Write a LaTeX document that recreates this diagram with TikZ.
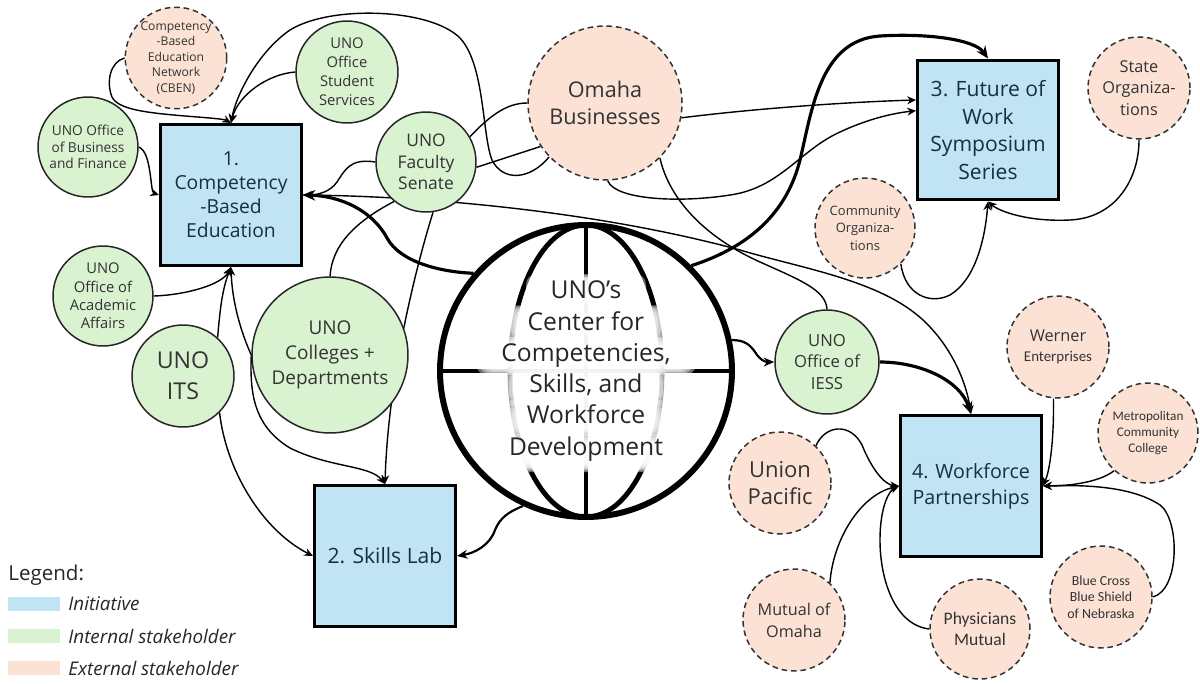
\documentclass[tikz,border=0pt]{standalone}
\usepackage{fontspec}
\setmainfont{Open Sans}
\newfontfamily\calfont{Carlito}
\usetikzlibrary{arrows.meta,backgrounds,calc}

\definecolor{initfill}{HTML}{C1E4F5}
\definecolor{intfill}{HTML}{D9F2D0}
\definecolor{extfill}{HTML}{FBE2D5}
\definecolor{inittext}{HTML}{16303F}
\definecolor{nodetext}{HTML}{333333}

\newcommand\setfs[2]{\fontsize{#1}{#2}\selectfont}

\begin{document}
\begin{tikzpicture}[x=0.02cm,y=-0.02cm,
  initbox/.style={rectangle, draw=black, line width=1.7pt, fill=initfill, text=inittext,
    minimum width=2.82cm, minimum height=2.82cm, align=center, inner sep=0pt},
  intnode/.style={circle, draw=black!85, line width=0.85pt, fill=intfill, text=nodetext,
    align=center, inner sep=0pt},
  extnode/.style={circle, draw=black!80, line width=0.85pt, dash pattern=on 3.2pt off 2.2pt,
    fill=extfill, text=nodetext, align=center, inner sep=0pt},
  link/.style={line width=0.8pt, draw=black},
  linkarrow/.style={link, -{Stealth[length=5pt,width=4.5pt]}},
  midlink/.style={line width=1.25pt, draw=black, -{Stealth[length=6pt,width=5pt]}},
  thicklink/.style={line width=1.8pt, draw=black, -{Stealth[length=7pt,width=6pt]}},
  legswatch/.style={rectangle, minimum width=1.04cm, minimum height=0.28cm, inner sep=0pt},
  legtext/.style={anchor=west, font=\itshape\setfs{10.7}{13}, text=black!85, inner sep=0pt}]
\useasboundingbox (0,0) rectangle (1200,683);

% ---- central globe ----
\node[circle, draw, line width=3.4pt, fill=white, minimum size=5.84cm, inner sep=0pt] (globe) at (586,371) {};
\draw[line width=2.8pt] (586,225) -- (586,517);
\draw[line width=2.8pt] (440,371) -- (732,371);
\draw[line width=2.8pt] (586,371) ellipse [x radius=1.52cm, y radius=2.92cm];
% soft white glow behind each line of the centre title
\foreach \cy/\hw in {293/36, 324.4/56, 355.8/86, 387.2/58, 418.6/58, 453/76} {
  \foreach \k in {0,...,7} {
    \fill[white, opacity=0.42, rounded corners=6pt]
      (586-\hw-24+2.6*\k, \cy-19+1.4*\k) rectangle (586+\hw+24-2.6*\k, \cy+19-1.4*\k);
  }
}
\node[align=center, font=\setfs{14}{17.8}, text=black!85, inner sep=0pt] (globetext) at (586,371)
  {UNO’s\\Center for\\Competencies,\\Skills, and\\Workforce\\Development};

% ---- initiatives ----
\node[initbox, font=\setfs{11}{13.6}] (cbe) at (231,195) {1.\\Competency\\-Based\\Education};
\node[initbox, font=\setfs{12}{14}] (lab) at (385,556) {2. Skills Lab};
\node[initbox, minimum height=2.8cm, font=\setfs{12}{15.7}] (fow) at (988,130) {3. Future of\\Work\\Symposium\\Series};
\node[initbox, font=\setfs{11.2}{14.7}] (wp) at (971,486) {4. Workforce\\Partnerships};

% ---- internal stakeholders ----
\node[intnode, minimum size=2.04cm, font=\setfs{8.4}{10.8}] (sserv) at (347,72) {UNO\\Office\\Student\\Services};
\node[intnode, minimum size=2.0cm, font=\setfs{7.8}{9.4}] (bf) at (88,147) {UNO Office\\of Business\\and Finance};
\node[intnode, minimum size=2.0cm, font=\setfs{9.9}{12.2}] (senate) at (426,162) {UNO\\Faculty\\Senate};
\node[intnode, minimum size=2.0cm, font=\setfs{8.4}{10.5}] (acad) at (103,296) {UNO\\Office of\\Academic\\Affairs};
\node[intnode, minimum size=2.04cm, font=\setfs{13.2}{17.6}] (its) at (183,376) {UNO\\ITS};
\node[intnode, minimum size=3.12cm, font=\setfs{10.8}{14.2}] (coll) at (330,355) {UNO\\Colleges +\\Departments};
\node[intnode, minimum size=2.08cm, font=\setfs{9.5}{12.2}] (iess) at (827,362) {UNO\\Office of\\IESS};

% ---- external stakeholders ----
\node[extnode, minimum size=2.0cm, font=\setfs{6.9}{8.8}] (cben) at (176,58) {Competency\\-Based\\Education\\Network\\(CBEN)};
\node[extnode, minimum size=3.08cm, font=\setfs{12.3}{15.3}] (omaha) at (605,103) {Omaha\\Businesses};
\node[extnode, minimum size=2.04cm, font=\setfs{9.3}{12.2}] (state) at (1139,88) {State\\Organiza-\\tions};
\node[extnode, minimum size=2.0cm, font=\setfs{7.4}{9.9}] (comm) at (865,228) {Community\\Organiza-\\tions};
\node[extnode, minimum size=2.04cm, font=\setfs{9.3}{11.5}] (werner) at (1058,347) {Werner\\{\calfont\fontsize{8.5}{11.5}\selectfont Enterprises}};
\node[extnode, minimum size=2.0cm, font=\calfont\setfs{7.5}{9}] (mcc) at (1148,433) {Metropolitan\\Community\\College};
\node[extnode, minimum size=2.04cm, font=\setfs{12.5}{15.3}] (unionpac) at (780,483) {Union\\Pacific};
\node[extnode, minimum size=2.04cm, font=\setfs{9.2}{12.5}] (moo) at (794,620) {Mutual of\\Omaha};
\node[extnode, minimum size=2.0cm, font=\calfont\setfs{10}{12.2}] (phys) at (980,629) {Physicians\\Mutual};
\node[extnode, minimum size=2.04cm, font=\calfont\setfs{7.9}{9.4}] (bcbs) at (1101,597) {Blue Cross\\Blue Shield\\of Nebraska};

% ---- legend ----
\node[anchor=west, font=\setfs{11.7}{14}, text=black!85, inner sep=0pt] (legtitle) at (8,575) {Legend:};
\node[legswatch, fill=initfill] (swinit) at (34,604) {};
\node[legswatch, fill=intfill] (swint) at (34,636) {};
\node[legswatch, fill=extfill] (swext) at (34,668) {};
\node[legtext] (leginit) at (68,604) {Initiative};
\node[legtext] (legint) at (68,636) {Internal stakeholder};
\node[legtext] (legext) at (68,668) {External stakeholder};

% ---- connectors ----
\begin{pgfonlayer}{background}
% into 1. Competency-Based Education
\draw[linkarrow] (cben.west) .. controls (110,62) and (106,82) .. (112,97)
  .. controls (118,110) and (150,113) .. (185,116) .. controls (210,118) and (224,119) .. (cbe.north);
\draw[linkarrow] (sserv.west) .. controls (268,74) and (238,95) .. (cbe.north);
\draw[linkarrow] (omaha.224) .. controls (530,180) and (503,182) .. (492,160)
  .. controls (482,135) and (485,65) .. (460,38) .. controls (430,8) and (330,5) .. (290,30)
  .. controls (258,52) and (236,95) .. (cbe.north);
\draw[linkarrow] (bf.east) .. controls (152,152) and (150,192) .. (cbe.west);
\draw[linkarrow] (senate.west) .. controls (350,158) and (345,170) .. (337,182)
  .. controls (330,192) and (318,195) .. (cbe.east);
\draw[thicklink] (globe.139) .. controls (440,272) and (400,262) .. (387,238)
  .. controls (372,210) and (340,196) .. (cbe.east);
\draw[linkarrow] (acad.east) .. controls (185,295) and (222,285) .. (cbe.south);
\draw[linkarrow] (its.48) .. controls (220,310) and (222,290) .. (cbe.south);
\draw[linkarrow] (coll.west) .. controls (240,330) and (232,300) .. (cbe.south);

% into 2. Skills Lab
\draw[linkarrow] (coll.west) .. controls (250,390) and (252,425) .. (290,448)
  .. controls (330,468) and (370,465) .. (lab.north);
\draw[linkarrow] (senate.-82) .. controls (415,270) and (388,380) .. (lab.north);
\draw[link] (senate.231) .. controls (355,222) and (332,245) .. (coll.north);
\draw[linkarrow] (its.-45) .. controls (226,470) and (262,530) .. (lab.west);
\draw[midlink] (globe.-115) .. controls (508,512) and (500,518) .. (495,530)
  .. controls (490,545) and (475,553) .. (lab.east);

% into 3. Future of Work Symposium Series
\draw[link] (senate.30) .. controls (488,118) and (505,103) .. (omaha.west);
\draw[link] (senate.-6) -- (omaha.214);
\draw[linkarrow] (omaha.-11) .. controls (760,108) and (850,102) .. ($(fow.north west)!0.29!(fow.south west)$);
\draw[linkarrow] (omaha.-88) .. controls (615,200) and (680,203) .. (730,195)
  .. controls (780,188) and (800,150) .. (840,132) .. controls (870,118) and (895,113)
  .. ($(fow.north west)!0.365!(fow.south west)$);
\draw[thicklink] (globe.45) .. controls (740,250) and (785,220) .. (800,160)
  .. controls (812,110) and (820,40) .. (880,36) .. controls (930,33) and (975,40) .. (fow.north);
\draw[linkarrow] (state.south) .. controls (1139,180) and (1115,218) .. (1070,220)
  .. controls (1030,222) and (1000,212) .. (fow.south);
\draw[linkarrow] (comm.-45) .. controls (905,295) and (930,305) .. (950,295)
  .. controls (975,280) and (985,240) .. (fow.south);

% into 4. Workforce Partnerships
\draw[link] (omaha.-45) .. controls (668,195) and (700,235) .. (760,262)
  .. controls (800,280) and (826,290) .. (iess.north);
\draw[linkarrow] (cbe.east) .. controls (430,196) and (600,212) .. (740,250)
  .. controls (800,268) and (880,280) .. (923,320) .. controls (950,345) and (966,380) .. (wp.north);
\draw[midlink] (globe.12) .. controls (745,340) and (750,345) .. (755,352)
  .. controls (760,360) and (765,362) .. (iess.west);
\draw[thicklink] (iess.east) .. controls (920,362) and (960,380) .. (wp.north);
\draw[linkarrow] (unionpac.46) .. controls (825,425) and (850,422) .. (862,445)
  .. controls (872,470) and (885,485) .. (wp.west);
\draw[linkarrow] (moo.46) .. controls (833,540) and (860,495) .. (wp.west);
\draw[linkarrow] (phys.west) .. controls (895,625) and (880,580) .. (880,540)
  .. controls (880,505) and (890,490) .. (wp.west);
\draw[linkarrow] (werner.-95) .. controls (1054,440) and (1050,470) .. (wp.east);
\draw[linkarrow] (mcc.228) .. controls (1100,482) and (1070,486) .. (wp.east);
\draw[linkarrow] (bcbs.east) .. controls (1180,590) and (1180,520) .. (1160,505)
  .. controls (1130,485) and (1080,485) .. (wp.east);
\end{pgfonlayer}
\end{tikzpicture}
\end{document}
